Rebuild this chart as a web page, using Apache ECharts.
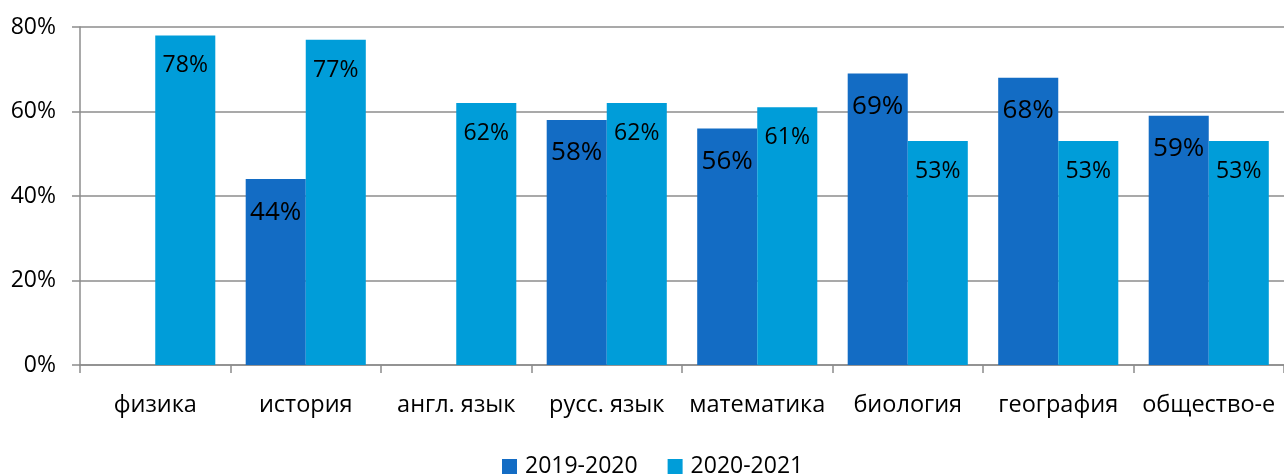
<!DOCTYPE html>
<html>
<head>
<meta charset="utf-8">
<script src="https://cdn.jsdelivr.net/npm/echarts@6/dist/echarts.min.js"></script>
<style>
  html, body { margin: 0; padding: 0; background: #fff; }
  #chart { width: 1284px; height: 475px; }
</style>
</head>
<body>
<div id="chart"></div>
<script>
// Subjects on the category axis
const subjects = ['физика', 'история', 'англ. язык', 'русс. язык', 'математика', 'биология', 'география', 'общество-е'];
// Share of results per school year, in percent (null = no data)
const year2019 = [null, 44, null, 58, 56, 69, 68, 59];
const year2020 = [78, 77, 62, 62, 61, 53, 53, 53];
const seriesNames = ['2019-2020', '2020-2021'];
const yTicks = { min: 0, max: 80, step: 20 };

const FONT = '"Open Sans", "Noto Sans", sans-serif';
const gridColor = '#8c8c8c';

const chart = echarts.init(document.getElementById('chart'), null, { renderer: 'canvas' });

function labelCfg(size, dist) {
  return {
    show: true,
    position: 'insideTop',
    distance: dist,
    color: '#000',
    fontFamily: FONT,
    fontSize: size,
    formatter: p => p.value + '%'
  };
}

chart.setOption({
  animation: false,
  backgroundColor: '#fff',
  grid: { left: 80, right: 0, top: 27, bottom: 110, containLabel: false },
  legend: {
    bottom: -8,
    left: 497,
    itemWidth: 15,
    itemHeight: 15,
    itemGap: 30,
    icon: 'rect',
    textStyle: { fontFamily: FONT, fontSize: 23, color: '#000', padding: [0, 0, 0, 3] },
    data: seriesNames
  },
  xAxis: {
    type: 'category',
    data: subjects,
    axisLine: { show: true, lineStyle: { color: gridColor, width: 1.5 } },
    axisTick: { show: true, length: 8, lineStyle: { color: gridColor, width: 1.5 } },
    axisLabel: { color: '#000', fontFamily: FONT, fontSize: 23.5, margin: 28, interval: 0 }
  },
  yAxis: {
    type: 'value',
    min: yTicks.min,
    max: yTicks.max,
    interval: yTicks.step,
    axisLine: { show: true, lineStyle: { color: gridColor, width: 1.5 } },
    axisTick: { show: true, length: 8, lineStyle: { color: gridColor, width: 1.5 } },
    axisLabel: { color: '#000', fontFamily: FONT, fontSize: 23, margin: 24, formatter: v => v + '%' },
    splitLine: { show: true, lineStyle: { color: gridColor, width: 1.5 } }
  },
  series: [
    {
      name: seriesNames[0],
      type: 'bar',
      data: year2019,
      barWidth: '39.9%',
      barGap: '0%',
      itemStyle: { color: '#136CC4' },
      label: labelCfg(26, 20)
    },
    {
      name: seriesNames[1],
      type: 'bar',
      data: year2020,
      barWidth: '39.9%',
      barGap: '0%',
      itemStyle: { color: '#009DD9' },
      label: labelCfg(23, 19)
    }
  ]
});
</script>
</body>
</html>
